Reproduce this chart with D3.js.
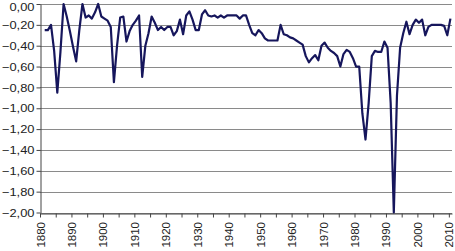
<!DOCTYPE html>
<html>
<head>
<meta charset="utf-8">
<script src="https://cdn.jsdelivr.net/npm/d3@7"></script>
<style>
  html, body { margin: 0; padding: 0; background: #fff; }
  #wrap { position: relative; width: 455px; height: 251px; }
  svg { display: block; }
  text { font-family: "Liberation Sans", Arial, sans-serif; fill: #222; }
  .xlab {
    position: absolute;
    font: 11.5px "Liberation Sans", Arial, sans-serif;
    color: #222;
    white-space: nowrap;
    line-height: 12px;
    transform-origin: 100% 50%;
  }
</style>
</head>
<body>
<div id="wrap">
<svg id="chart" width="455" height="251"></svg>
</div>
<script>
// yearly values, 1881-2010
const years = d3.range(1881, 2011);
const values = [
  -0.25, -0.25, -0.20, -0.45, -0.85, -0.46, 0.00, -0.12, -0.26, -0.41,   // 1881-1890
  -0.55, -0.25, 0.00, -0.13, -0.11, -0.14, -0.08, 0.00, -0.12, -0.14,     // 1891-1900
  -0.16, -0.22, -0.75, -0.40, -0.13, -0.12, -0.36, -0.26, -0.20, -0.16,   // 1901-1910
  -0.11, -0.70, -0.40, -0.28, -0.12, -0.18, -0.25, -0.22, -0.25, -0.22,   // 1911-1920
  -0.22, -0.30, -0.26, -0.15, -0.29, -0.11, -0.07, -0.15, -0.25, -0.25,   // 1921-1930
  -0.10, -0.06, -0.11, -0.12, -0.11, -0.13, -0.11, -0.13, -0.11, -0.11,   // 1931-1940
  -0.11, -0.11, -0.14, -0.11, -0.11, -0.20, -0.28, -0.30, -0.25, -0.28,   // 1941-1950
  -0.33, -0.35, -0.35, -0.35, -0.35, -0.20, -0.29, -0.30, -0.32, -0.33,   // 1951-1960
  -0.35, -0.37, -0.39, -0.50, -0.56, -0.52, -0.49, -0.54, -0.40, -0.37,   // 1961-1970
  -0.42, -0.45, -0.47, -0.50, -0.60, -0.48, -0.44, -0.46, -0.52, -0.60,   // 1971-1980
  -0.60, -1.05, -1.30, -0.95, -0.50, -0.45, -0.46, -0.46, -0.36, -0.42,   // 1981-1990
  -0.95, -2.00, -0.88, -0.42, -0.28, -0.17, -0.29, -0.20, -0.15, -0.18,   // 1991-2000
  -0.15, -0.30, -0.22, -0.20, -0.20, -0.20, -0.20, -0.21, -0.30, -0.14    // 2001-2010
];
const yTicks = d3.range(0, 11).map(i => -i * 0.2);
const xTicks = d3.range(1880, 2011, 5);
const xLabelYears = d3.range(1880, 2011, 10);

const svg = d3.select('#chart');
const margin = { top: 4, right: 3, bottom: 38.5, left: 40 };
const width = 455, height = 251;

// one category per year (Excel style), ticks on category edges
const x = d3.scaleLinear()
  .domain([1880, 2011])
  .range([margin.left, width - margin.right]);

const y = d3.scaleLinear()
  .domain([-2, 0])
  .range([height - margin.bottom, margin.top]);

const fmt = v => d3.format('.2f')(v === 0 ? 0 : v).replace('.', ',');

// gridlines
svg.append('g')
  .selectAll('line')
  .data(yTicks)
  .join('line')
  .attr('x1', margin.left)
  .attr('x2', width - margin.right)
  .attr('y1', d => Math.round(y(d)) + 0.5)
  .attr('y2', d => Math.round(y(d)) + 0.5)
  .attr('stroke', '#8a8a8a')
  .attr('stroke-width', 1.2);

// left axis
const yAxis = svg.append('g')
  .attr('transform', `translate(${margin.left + 0.5},0)`)
  .call(d3.axisLeft(y).tickValues(yTicks).tickSize(4).tickSizeOuter(0).tickFormat(fmt));
yAxis.select('.domain').attr('stroke', '#444');
yAxis.selectAll('.tick line').attr('stroke', '#444');
yAxis.selectAll('.tick text')
  .attr('font-size', 11.5)
  .attr('fill', '#222')
  .attr('x', -6)
  .attr('dy', d => (d === 0 ? '0.55em' : '0.32em'))
  .each(function () {
    const w = this.getComputedTextLength();
    d3.select(this).attr('textLength', w * 1.12).attr('lengthAdjust', 'spacingAndGlyphs');
  });

// bottom axis (labels as rotated html boxes)
const axisY = Math.round(y(-2)) + 0.5;
const xAxis = svg.append('g')
  .attr('transform', `translate(0,${axisY})`)
  .call(d3.axisBottom(x).tickValues(xTicks).tickSize(4).tickSizeOuter(0).tickFormat(''));
xAxis.select('.domain').attr('stroke', '#444');
xAxis.selectAll('.tick line').attr('stroke', '#444');

d3.select('#wrap')
  .selectAll('div.xlab')
  .data(xLabelYears)
  .join('div')
  .attr('class', 'xlab')
  .text(d => d)
  .each(function (d) {
    const w = this.offsetWidth;
    // right edge of the box sits on the tick, then turn it so it reads upward
    d3.select(this)
      .style('left', `${x(d) + 0.5 - w}px`)
      .style('top', `${axisY + 8 - 6}px`)
      .style('transform', 'rotate(-90deg)');
  });

// series line, points at category centres
const line = d3.line()
  .x((d, i) => x(years[i] + 0.5))
  .y(d => y(d));

svg.append('path')
  .datum(values)
  .attr('fill', 'none')
  .attr('stroke', '#16165c')
  .attr('stroke-width', 2.2)
  .attr('stroke-linejoin', 'round')
  .attr('d', line);
</script>
</body>
</html>
